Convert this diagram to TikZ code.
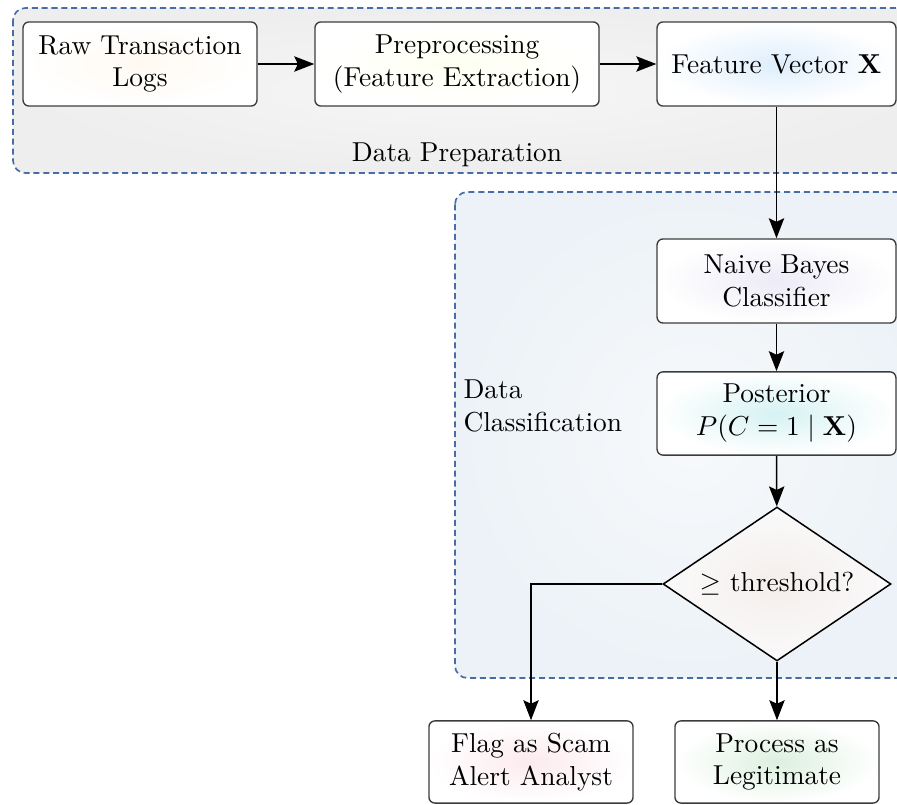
\documentclass[tikz,border=0pt]{standalone}
\usetikzlibrary{shapes.geometric,arrows.meta}
\definecolor{dashblue}{RGB}{72,108,165}
\definecolor{boxline}{RGB}{60,60,60}
\tikzset{
  px/.style={x=0.365pt,y=-0.365pt},
  container/.style={draw=dashblue,dash pattern=on 2.2pt off 1.4pt,line width=0.6pt,rounded corners=4.5pt},
  procbox/.style={draw=boxline,line width=0.5pt,rounded corners=2.2pt,align=center,
     inner sep=0pt,outer color=white},
  arr/.style={-{Stealth[length=7.3pt,width=5.6pt,inset=1.3pt]},line width=0.55pt,black},
  lbl/.style={inner sep=0pt,align=left}
}
\begin{document}
\begin{tikzpicture}[px]
\useasboundingbox (0,0) rectangle (897,805);
\clip (0,0) rectangle (897,805);
% containers
\fill[white] (0,0) rectangle (897,805);
\shade[container, inner color={rgb,255:red,246;green,246;blue,246}, outer color={rgb,255:red,238;green,238;blue,238}] (13,8) rectangle (930,173);
\shade[container, inner color={rgb,255:red,247;green,249;blue,251}, outer color={rgb,255:red,236;green,242;blue,247}] (455,192) rectangle (930,678);
\node[lbl,anchor=center] (prep) at (457,155) {Data Preparation};
\node[lbl,anchor=west] (cls) at (463,406) {Data\\Classification};
% nodes
\node[procbox,inner color=yellow!8!orange!5,minimum width=85.4pt,minimum height=30.7pt] (raw) at (140,64) {Raw Transaction\\Logs};
\node[procbox,inner color=green!6!yellow!5,minimum width=103.7pt,minimum height=30.7pt] (pre) at (457,64) {Preprocessing\\(Feature Extraction)};
\node[procbox,inner color={rgb,255:red,222;green,238;blue,252},minimum width=87.2pt,minimum height=30.7pt] (fv) at (776.5,64) {Feature Vector $\mathbf{X}$};
\node[procbox,inner color={rgb,255:red,236;green,235;blue,247},minimum width=87.2pt,minimum height=30.7pt] (nb) at (776.5,281) {Naive Bayes\\Classifier};
\node[procbox,inner color={rgb,255:red,214;green,242;blue,242},minimum width=87.2pt,minimum height=30.4pt] (post) at (776.5,413.5) {Posterior\\$P(C=1\mid\mathbf{X})$};
\node[draw=black,line width=0.55pt,diamond,shape aspect=1.48,inner sep=0pt,minimum width=83.2pt,minimum height=56.2pt,inner color={rgb,255:red,244;green,238;blue,236},outer color={rgb,255:red,250;green,250;blue,250}] (dec) at (777,584) {$\geq$ threshold?};
\node[procbox,inner color={rgb,255:red,252;green,234;blue,238},minimum width=74.5pt,minimum height=30pt] (flag) at (531,762) {Flag as Scam\\Alert Analyst};
\node[procbox,inner color={rgb,255:red,220;green,240;blue,222},minimum width=74.5pt,minimum height=30pt] (proc) at (777,762) {Process as\\Legitimate};
% connectors
\draw[arr] (raw) -- (pre);
\draw[arr] (pre) -- (fv);
\draw[arr] (fv) -- (nb);
\draw[arr] (nb) -- (post);
\draw[arr] (post) -- (dec);
\draw[arr] (dec.west) -| (flag.north);
\draw[arr] (dec.south) -- (proc.north);
\end{tikzpicture}
\end{document}
